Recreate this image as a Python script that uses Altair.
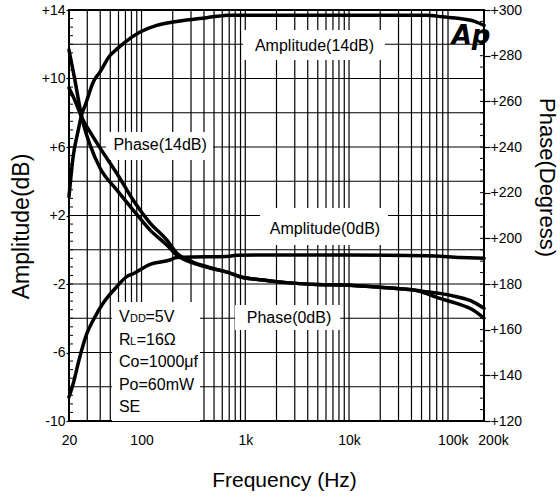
import altair as alt
import pandas as pd

FONT = "Liberation Sans"
W, H = 415, 411

# ---------------- data ----------------
amp14_f = [20, 22, 24.6, 26.5, 28.5, 34.3, 40, 49, 60, 72, 96, 140, 202, 272, 366, 489, 700,
           2000, 10000, 56000, 80000, 117000, 160000, 200000]
amp14_db = [3.1, 5.5, 7.0, 7.9, 8.4, 9.8, 10.4, 11.3, 11.8, 12.2, 12.7, 13.1, 13.3, 13.42, 13.5,
            13.6, 13.7, 13.7, 13.7, 13.7, 13.6, 13.5, 13.35, 13.1]

amp0_f = [20, 22, 24.6, 26.5, 29.7, 34.3, 42.9, 57.7, 72, 83, 121, 188, 218, 313, 570, 713, 826,
          2000, 10000, 56000, 120000, 200000]
amp0_db = [-8.6, -7.8, -6.6, -5.85, -4.9, -4.1, -3.1, -2.16, -1.57, -1.4, -0.85, -0.6, -0.45, -0.42,
           -0.41, -0.38, -0.32, -0.3, -0.3, -0.35, -0.45, -0.5]

phA_f = [20, 22.8, 25.5, 26.7, 31.9, 39.8, 57.7, 83, 121, 175, 218, 313, 457, 713, 890, 1480, 2500,
         4900, 10200, 17000, 36000, 46000, 56000, 75000, 109000, 157000, 200000]
phA_deg = [282.5, 269.3, 257.1, 252.7, 240.9, 230.8, 221.2, 212.4, 203.6, 197.1, 192.7, 189.2, 187.0,
           184.8, 183.2, 181.8, 180.6, 179.8, 179.5, 178.8, 177.7, 177.0, 175.8, 173.7, 171.5, 168.6, 165.0]

phB_f = [20, 22.8, 26.7, 31.9, 39.8, 57.7, 83, 121, 175, 218, 313, 457, 713, 890, 1480, 2500,
         4900, 10200, 17000, 36000, 46000, 56000, 75000, 109000, 157000, 200000]
phB_deg = [265.8, 260.4, 252.7, 246.6, 239.6, 228.5, 216.8, 206.7, 199.3, 193.6, 189.6, 187.2,
           184.8, 183.2, 181.8, 180.6, 179.8, 179.5, 178.8, 177.7, 177.2, 176.6, 175.9, 174.4, 172.2, 169.4]

# gridlines / ticks
x_grid = [m * 10 ** e for e in range(1, 5) for m in range(1, 10) if 20 <= m * 10 ** e <= 100000]
y_grid = list(range(-8, 14, 2))
y_minor = [v / 2 for v in range(-20, 29)]
p_minor = list(range(120, 301, 5))
x_labels = [20, 100, 1000, 10000, 100000, 200000]
y_labels = [-10, -6, -2, 2, 6, 10, 14]
p_labels = list(range(120, 301, 20))

# annotation labels
lab_text = ["Amplitude(14dB)", "Phase(14dB)", "Amplitude(0dB)", "Phase(0dB)"]
lab_f = [4650, 151, 5870, 2640]
lab_db = [11.92, 6.12, 1.21, -3.99]

# white boxes behind labels
box_f1 = [950, 45.4, 1390, 796, 52]
box_f2 = [22200, 489, 23800, 8200, 366]
box_d1 = [11.08, 5.24, 0.28, -4.69, -10]
box_d2 = [12.83, 6.87, 2.44, -3.23, -3.05]

# info block
info_f = 60.6
info_main = ["V", "R", "Co=1000\u03bcf", "Po=60mW", "SE"]
info_main_db = [-4.24, -5.56, -6.87, -8.19, -9.50]
info_sub = ["DD", "L"]
info_sub_db = [-4.24, -5.56]

# ---------------- scales ----------------
XS = alt.Scale(type="log", domain=[20, 200000], nice=False)
YA = alt.Scale(domain=[-10, 14], nice=False, zero=False)
YP = alt.Scale(domain=[120, 300], nice=False, zero=False)

amp_df = pd.DataFrame({
    "f": amp14_f + amp0_f,
    "v": amp14_db + amp0_db,
    "s": ["a14"] * len(amp14_f) + ["a0"] * len(amp0_f),
})
ph_df = pd.DataFrame({
    "f": phA_f + phB_f,
    "v": phA_deg + phB_deg,
    "s": ["pA"] * len(phA_f) + ["pB"] * len(phB_f),
})

vgrid = alt.Chart(pd.DataFrame({"f": x_grid})).mark_rule(color="black", strokeWidth=1.2).encode(
    x=alt.X("f:Q", scale=XS, axis=None), y=alt.value(0), y2=alt.value(H))
hgrid = alt.Chart(pd.DataFrame({"d": y_grid})).mark_rule(color="black", strokeWidth=1.2).encode(
    y=alt.Y("d:Q", scale=YA, axis=None), x=alt.value(0), x2=alt.value(W))
lminor = alt.Chart(pd.DataFrame({"d": y_minor})).mark_rule(color="black", strokeWidth=1).encode(
    y=alt.Y("d:Q", scale=YA, axis=None), x=alt.value(0), x2=alt.value(4))
rminor = alt.Chart(pd.DataFrame({"p": p_minor})).mark_rule(color="black", strokeWidth=1).encode(
    y=alt.Y("p:Q", scale=YP, axis=None), x=alt.value(W - 4), x2=alt.value(W))

boxes = alt.Chart(pd.DataFrame({"f1": box_f1, "f2": box_f2, "d1": box_d1, "d2": box_d2})).mark_rect(
    fill="white", stroke=None).encode(
    x=alt.X("f1:Q", scale=XS, axis=None), x2="f2:Q",
    y=alt.Y("d1:Q", scale=YA, axis=None), y2="d2:Q")

labels = alt.Chart(pd.DataFrame({"t": lab_text, "f": lab_f, "d": lab_db})).mark_text(
    font=FONT, fontSize=16, align="center", baseline="middle", color="black").encode(
    x=alt.X("f:Q", scale=XS, axis=None), y=alt.Y("d:Q", scale=YA, axis=None), text="t:N")


def info_layer(texts, dbs, dx, size):
    return alt.Chart(pd.DataFrame({"t": texts, "d": dbs, "f": [info_f] * len(texts)})).mark_text(
        font=FONT, fontSize=size, align="left", baseline="alphabetic", color="black", dx=dx).encode(
        x=alt.X("f:Q", scale=XS, axis=None), y=alt.Y("d:Q", scale=YA, axis=None), text="t:N")


info1 = info_layer(info_main, info_main_db, 0, 16)
info2 = info_layer(info_sub, info_sub_db, 11, 11)
info3 = info_layer(["=5V"], [info_main_db[0]], 26.5, 16)
info4 = info_layer(["=16\u03a9"], [info_main_db[1]], 17.7, 16)

x_axis = alt.Axis(
    values=x_labels, grid=False, ticks=False, domain=False, labelPadding=12, labelFlush=False,
    labelOverlap=False, labelFontSize=14,
    labelExpr="datum.value >= 1000 ? (datum.value / 1000) + 'k' : '' + datum.value",
    labelOffset={"condition": {"test": "datum.value == 200000", "value": 9}, "value": 0},
    title="Frequency (Hz)", titleFontSize=21, titleX=215, titleY=59, titleBaseline="middle",
    titleAlign="center")
ya_axis = alt.Axis(
    orient="left", values=y_labels, grid=False, domain=False, tickSize=3, labelPadding=1,
    labelFontSize=14, labelExpr="datum.value > 0 ? '+' + datum.value : '' + datum.value",
    title="Amplitude(dB)", titleFontSize=23, titleAngle=270, titleX=-48, titleY=216,
    titleBaseline="middle", titleAlign="center")
yp_axis = alt.Axis(
    orient="right", values=p_labels, grid=False, domain=False, tickSize=6, labelPadding=0,
    labelFontSize=14, labelExpr="'+' + datum.value",
    title="Phase(Degress)", titleFontSize=22, titleAngle=90, titleX=62, titleY=167,
    titleBaseline="middle", titleAlign="center")

amp = alt.Chart(amp_df).mark_line(color="black", strokeWidth=3.5, interpolate="monotone",
                                  strokeJoin="round", strokeCap="round").encode(
    x=alt.X("f:Q", scale=XS, axis=x_axis),
    y=alt.Y("v:Q", scale=YA, axis=ya_axis),
    detail="s:N")
ph = alt.Chart(ph_df).mark_line(color="black", strokeWidth=3.5, interpolate="monotone",
                                strokeJoin="round", strokeCap="round").encode(
    x=alt.X("f:Q", scale=XS, axis=None),
    y=alt.Y("v:Q", scale=YP, axis=yp_axis),
    detail="s:N")

logo = alt.Chart(pd.DataFrame({"t": ["Ap"], "f": [150000], "d": [12.5]})).mark_text(
    font="DejaVu Sans", fontSize=26, fontWeight="bold", fontStyle="italic", align="center",
    baseline="middle", color="black").encode(
    x=alt.X("f:Q", scale=XS, axis=None), y=alt.Y("d:Q", scale=YA, axis=None), text="t:N")

chart = alt.layer(
    vgrid, hgrid, lminor, rminor, boxes, labels, info1, info2, info3, info4, amp, ph, logo
).resolve_scale(y="independent").resolve_axis(x="independent", y="independent").properties(
    width=W, height=H,
    padding={"left": 69, "top": 10, "right": 76, "bottom": 78},
    autosize=alt.AutoSizeParams(type="none"),
    background="white",
).configure_view(stroke="black", strokeWidth=2).configure_axis(
    labelFont=FONT, titleFont=FONT, labelColor="black", titleColor="black", tickColor="black",
    titleFontWeight="normal", tickWidth=1.2)

chart.save("out.html", embed_options={"renderer": "svg", "actions": False})
